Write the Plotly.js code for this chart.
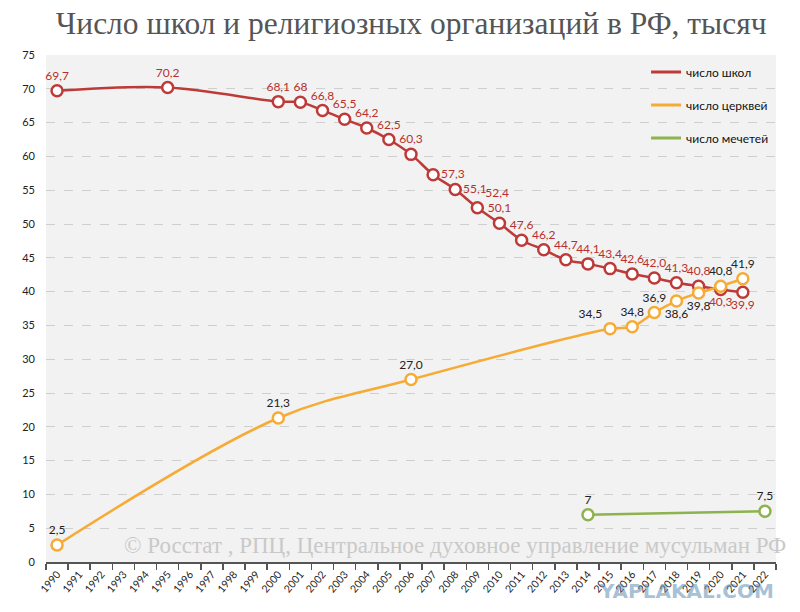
<!DOCTYPE html>
<html>
<head>
<meta charset="utf-8">
<script src="https://cdn.plot.ly/plotly-3.0.1.min.js"></script>
<style>html,body{margin:0;padding:0;background:#fff;}#chart{width:800px;height:612px;}</style>
</head>
<body>
<div id="chart"></div>
<script>
// Tick labels (categories)
const years = ['1990','1991','1992','1993','1994','1995','1996','1997','1998','1999','2000','2001','2002','2003','2004','2005','2006','2007','2008','2009','2010','2011','2012','2013','2014','2015','2016','2017','2018','2019','2020','2021','2022'];

// Schools
const schoolYears = ['1990','1995','2000','2001','2002','2003','2004','2005','2006','2007','2008','2009','2010','2011','2012','2013','2014','2015','2016','2017','2018','2019','2020','2021'];
const schoolValues = [69.7,70.2,68.1,68,66.8,65.5,64.2,62.5,60.3,57.3,55.1,52.4,50.1,47.6,46.2,44.7,44.1,43.4,42.6,42.0,41.3,40.8,40.3,39.9];
const schoolLabels = ['69,7','70,2','68,1','68','66,8','65,5','64,2','62,5','60,3','57,3','55,1','52,4','50,1','47,6','46,2','44,7','44,1','43,4','42,6','42,0','41,3','40,8','40,3','39,9'];

// Churches
const churchYears = ['1990','2000','2006','2015','2016','2017','2018','2019','2020','2021'];
const churchValues = [2.5,21.3,27.0,34.5,34.8,36.9,38.6,39.8,40.8,41.9];
const churchLabels = ['2,5','21,3','27,0','34,5','34,8','36,9','38,6','39,8','40,8','41,9'];

// Mosques
const mosqueYears = ['2014','2022'];
const mosqueValues = [7,7.5];
const mosqueLabels = ['7','7,5'];

const schoolPos = schoolYears.map(y => {
  if (y === '2007' || y === '2008') return 'middle right';
  if (y === '2009') return 'top right';
  if (y === '2020' || y === '2021') return 'bottom center';
  return 'top center';
});
const churchPos = churchYears.map(y => {
  if (y === '2015') return 'top left';
  if (y === '2018' || y === '2019') return 'bottom center';
  return 'top center';
});

const RED = '#bd3a38', ORANGE = '#f6ab35', GREEN = '#8db24e';
const labelFont = {family: 'Lato, "Open Sans", sans-serif', size: 12};

function series(xs, ys, txt, color, pos, txtColor, spline) {
  return {
    x: xs, y: ys, text: txt, showlegend: false,
    type: 'scatter', mode: 'lines+markers+text',
    line: spline ? {color: color, width: 2.5, shape: 'spline', smoothing: 1} : {color: color, width: 2.5},
    marker: {symbol: 'circle', size: 11, color: '#ffffff', line: {color: color, width: 2.5}},
    textposition: pos, textfont: Object.assign({color: txtColor}, labelFont),
    cliponaxis: false
  };
}
function legendItem(name, color, group) {
  return {
    x: [null], y: [null], name: name, legendgroup: group, type: 'scatter', mode: 'lines',
    line: {color: color, width: 3}, showlegend: true
  };
}

const traces = [
  series(schoolYears, schoolValues, schoolLabels, RED, schoolPos, '#b8302e', true),
  series(churchYears, churchValues, churchLabels, ORANGE, churchPos, '#222222', true),
  series(mosqueYears, mosqueValues, mosqueLabels, GREEN, 'top center', '#222222', false),
  legendItem('число школ', RED, 'a'),
  legendItem('число церквей', ORANGE, 'b'),
  legendItem('число мечетей', GREEN, 'c')
];

const layout = {
  width: 800, height: 612,
  margin: {l: 46, r: 24, t: 55, b: 50},
  paper_bgcolor: '#ffffff',
  plot_bgcolor: '#f2f2f2',
  showlegend: true,
  title: {
    text: 'Число школ и религиозных организаций в РФ, тысяч',
    font: {family: '"Liberation Serif", "DejaVu Serif", serif', size: 31.5, color: '#555555'},
    x: 0.514, xanchor: 'center', y: 0.962, yanchor: 'middle', yref: 'container'
  },
  xaxis: {
    type: 'category', categoryorder: 'array', categoryarray: years,
    tickvals: years, ticktext: years,
    range: [-0.5, years.length - 0.5],
    tickson: 'boundaries', ticks: 'outside', ticklen: 6, tickwidth: 1.5, tickcolor: '#555555',
    tickangle: -50,
    tickfont: {family: 'Lato, "Open Sans", sans-serif', size: 10.5, color: '#222222'},
    showline: true, linecolor: '#555555', linewidth: 2,
    showgrid: false, zeroline: false, fixedrange: true
  },
  yaxis: {
    range: [0, 75], dtick: 5, tick0: 0,
    tickfont: {family: 'Lato, "Open Sans", sans-serif', size: 11, color: '#222222'},
    showgrid: true, gridcolor: '#cfcfcf', griddash: 'dash', gridwidth: 1,
    zeroline: false, showline: false, ticks: '', ticklabelstandoff: 10, fixedrange: true
  },
  legend: {
    x: 0.822, y: 0.995, xanchor: 'left', yanchor: 'top',
    bgcolor: 'rgba(0,0,0,0)', borderwidth: 0,
    font: {family: 'Lato, "Open Sans", sans-serif', size: 12, color: '#111111'},
    tracegroupgap: 14, itemwidth: 30, traceorder: 'grouped'
  },
  annotations: [
    {
      text: '© Росстат , РПЦ, Центральное духовное управление мусульман РФ',
      xref: 'paper', yref: 'paper', x: 0.56, y: 0.033, xanchor: 'center', yanchor: 'middle',
      showarrow: false,
      font: {family: '"Liberation Serif", "DejaVu Serif", serif', size: 23, color: '#c9c9c9'}
    },
    {
      text: '<b>YAPLAKAL.COM</b>',
      xref: 'paper', yref: 'paper', x: 1.0, y: -0.03, xanchor: 'right', yanchor: 'top',
      showarrow: false,
      font: {family: '"DejaVu Sans", sans-serif', size: 20, color: 'rgba(90,140,180,0.55)'}
    }
  ]
};

Plotly.newPlot('chart', traces, layout, {displayModeBar: false, staticPlot: true});
</script>
</body>
</html>
